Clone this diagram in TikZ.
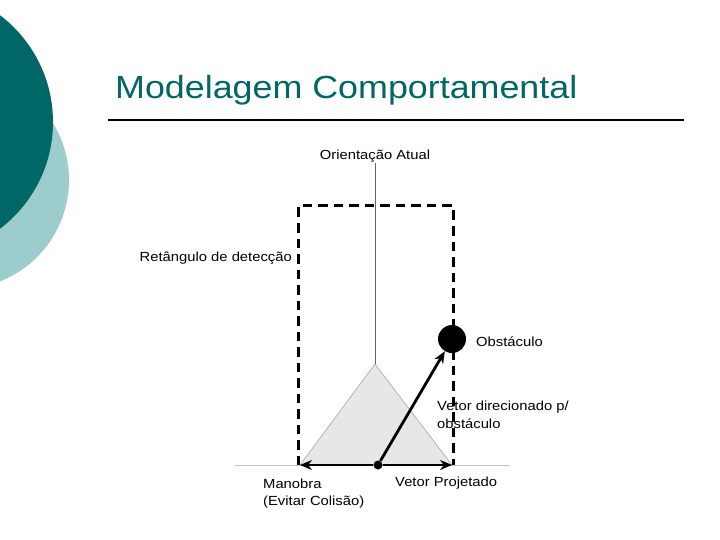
\documentclass[tikz,border=0pt]{standalone}
\usepackage{fontspec}
\setmainfont{Liberation Sans}[FakeStretch=1.12]
\usetikzlibrary{arrows.meta, positioning}

\definecolor{tealdark}{RGB}{0,102,102}
\definecolor{teallight}{RGB}{156,204,204}
\definecolor{trigray}{RGB}{231,231,231}

\tikzset{
  lbl/.style={inner sep=0pt, font=\fontsize{13.2}{16}\selectfont},
  vec/.style={line width=2.8pt, -{Stealth[length=12pt, width=10pt]}},
  detect/.style={line width=3pt, dash pattern=on 9.5pt off 6pt},
  ponto/.style={circle, fill=black, inner sep=0pt},
}

\begin{document}
\begin{tikzpicture}[x=1pt, y=-1pt]
        \clip (0,0) rectangle (720,540);
        % fundo do slide
        \fill[teallight] (-40,180) circle (109);
        \fill[tealdark] (-81,122) circle (134);
        \node[anchor=base west, inner sep=0pt, text=tealdark, font=\fontsize{32}{36}\selectfont] (titulo) at (115,99) {Modelagem Comportamental};
        \draw[line width=1.5pt] (108,120) -- (684,120);

        \coordinate (solo1) at (235,465);
        \coordinate (solo2) at (510,465);
        \coordinate (apice) at (375,364);
        \coordinate (baseE) at (300,465);
        \coordinate (baseD) at (452,465);
        \coordinate (orient) at (375,163);
        \coordinate (retE) at (298,465);
        \coordinate (retC) at (453,206);
        \coordinate (retD) at (453,465);

        \draw[gray!50, line width=0.8pt] (solo1) -- (solo2);
        \draw[fill=trigray, draw=gray!70, line width=0.6pt] (apice) -- (baseE) -- (baseD) -- cycle;
        \draw[gray!80!black, line width=0.8pt] (orient) -- (apice);
        \draw[detect] (retE) |- (retC) -- (retD);

        \node[ponto, minimum size=28pt] (obst) at (452,339) {};
        \node[ponto, minimum size=9pt] (robo) at (378,465) {};

        \draw[vec] (robo) -- (obst);
        \draw[vec] (robo) -- (baseE);
        \draw[vec] (robo) -- (baseD);

        \node[lbl, anchor=base] (orientLbl) at (375,160) {Orientação Atual};
        \node[lbl, anchor=base east] (retLbl) at (292,261) {Retângulo de detecção};
        \node[lbl, anchor=base west] (obstLbl) at (476,346) {Obstáculo};
        \node[lbl, anchor=base west] (vetA) at (437,410.5) {Vetor direcionado p/};
        \node[lbl, below=17.5pt of vetA.base west, anchor=base west] (vetB) {obstáculo};
        \node[lbl, anchor=base west] (manA) at (263,488) {Manobra};
        \node[lbl, below=17.5pt of manA.base west, anchor=base west] (manB) {(Evitar Colisão)};
        \node[lbl, anchor=base west] (projLbl) at (395,486.5) {Vetor Projetado};
\end{tikzpicture}
\end{document}
